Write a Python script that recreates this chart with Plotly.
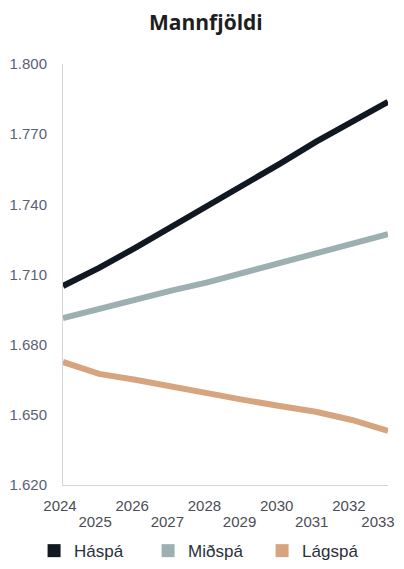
import plotly.graph_objects as go

years = [2024, 2025, 2026, 2027, 2028, 2029, 2030, 2031, 2032, 2033]
haspa = [1705.1, 1712.8, 1721.4, 1730.3, 1739.7, 1747.9, 1757.3, 1766.7, 1775.6, 1783.8]
midspa = [1691.4, 1695.4, 1699.3, 1703.1, 1706.6, 1710.8, 1715.0, 1719.4, 1723.4, 1727.3]
lagspa = [1672.6, 1667.5, 1665.0, 1662.0, 1659.0, 1656.4, 1653.8, 1651.3, 1647.8, 1643.1]
series_names = ["Háspá", "Miðspá", "Lágspá"]
series_colors = ["#111821", "#9cafb1", "#d6a57f"]
y_ticks = [1620, 1650, 1680, 1710, 1740, 1770, 1800]
y_ticktext = ["1.620", "1.650", "1.680", "1.710", "1.740", "1.770", "1.800"]
even_years = years[0::2]
odd_years = years[1::2]
inner_odd = odd_years[:-1]
last_year = odd_years[-1:]

fig = go.Figure()
for name, vals, col in zip(series_names, [haspa, midspa, lagspa], series_colors):
    fig.add_trace(go.Scatter(x=years, y=vals, mode="lines", name=name,
                             line=dict(color=col, width=6), cliponaxis=False,
                             showlegend=False))
    fig.add_trace(go.Scatter(x=[None], y=[None], mode="markers", name=name,
                             marker=dict(symbol="square", size=13, color=col)))
# carrier traces so the second label row (odd years) is drawn
fig.add_trace(go.Scatter(x=inner_odd, y=[None] * len(inner_odd), xaxis="x2", mode="lines",
                         showlegend=False, hoverinfo="skip"))
fig.add_trace(go.Scatter(x=last_year, y=[None], xaxis="x3", mode="lines",
                         showlegend=False, hoverinfo="skip"))

tick_font = dict(size=15, color="#4a4d55")
odd_axis = dict(range=[2024, 2033], overlaying="x", anchor="y", side="bottom",
                automargin=False, ticklabeloverflow="allow",
                showgrid=False, zeroline=False, showline=False,
                ticks="", ticklabelstandoff=26, tickfont=tick_font)
fig.update_layout(
    width=388, height=553,
    margin=dict(l=55, r=8, t=56, b=76, autoexpand=False),
    paper_bgcolor="white", plot_bgcolor="white",
    title=dict(text="<b>Mannfjöldi</b>", x=0.51, xanchor="center", y=0.974, yanchor="middle",
               font=dict(family="Open Sans", size=21, color="#1e1e1e")),
    font=dict(family="Liberation Sans, Arial", size=15),
    legend=dict(orientation="h", xref="paper", yref="paper",
                x=-0.089, xanchor="left", y=-0.157, yanchor="middle",
                font=dict(size=17, color="#2a2f3a"), itemwidth=30,
                entrywidth=69, traceorder="normal"),
    xaxis=dict(range=[2024, 2033], tickvals=even_years, ticktext=[str(v) for v in even_years],
               automargin=False, ticklabeloverflow="allow", ticklabelshift=-3,
               showgrid=False, zeroline=False, showline=True, linecolor="#d4d4dc", linewidth=1,
               ticks="", ticklabelstandoff=7, tickfont=tick_font),
    xaxis2=dict(odd_axis, tickvals=inner_odd, ticktext=[str(v) for v in inner_odd],
                ticklabelshift=-4),
    xaxis3=dict(odd_axis, tickvals=last_year, ticktext=[str(v) for v in last_year],
                ticklabelshift=-10),
    yaxis=dict(range=[1620, 1800], tickvals=y_ticks, ticktext=y_ticktext, automargin=False,
               showgrid=False, zeroline=False, showline=True, linecolor="#d4d4dc", linewidth=1,
               ticks="", ticklabelstandoff=12,
               tickfont=dict(size=15, color="#5a6174")),
)

fig.write_html("out.html")
